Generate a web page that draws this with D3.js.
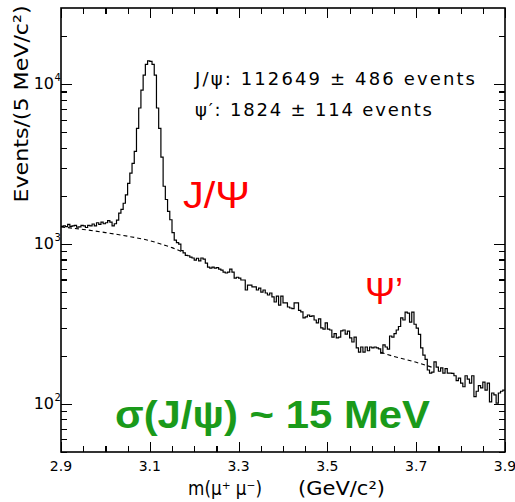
<!DOCTYPE html>
<html lang="en">
<head>
<meta charset="utf-8">
<title>J/psi and psi' in the dimuon mass spectrum</title>
<script src="https://cdn.jsdelivr.net/npm/d3@7"></script>
<style>
  body { margin: 0; background: #fff; }
  svg text { font-family: "DejaVu Sans", "Liberation Sans", Arial, sans-serif; fill: #000; }
  .frame { fill: none; stroke: #000; stroke-width: 1.6; }
  .axis line { stroke: #000; stroke-width: 1.2; shape-rendering: crispEdges; }
  .hist { fill: none; stroke: #000; stroke-width: 1.2; }
  .bkg { fill: none; stroke: #000; stroke-width: 1.1; stroke-dasharray: 4,3; }
  .big { font-family: "Liberation Sans", Arial, sans-serif; }
</style>
</head>
<body>
<script>
// 5 MeV/c2 bins from 2.900 to 3.900 GeV/c2, counts
var binStart = 2.9;
var binWidth = 0.005;
var counts = [
  1290, 1300, 1285, 1330, 1290, 1300, 1310, 1275, 1280, 1310,
  1300, 1270, 1310, 1300, 1335, 1300, 1360, 1330, 1370, 1340,
  1360, 1400, 1370, 1300, 1340, 1410, 1560, 1650, 1800, 2030,
  2400, 2780, 3200, 3800, 5300, 7100, 9200, 11400, 13300, 14000,
  13900, 13300, 11400, 7100, 5300, 3500, 2300, 1900, 1600, 1420,
  1180, 1060, 1020, 1000, 910, 880, 850, 845, 829, 818,
  794, 815, 785, 818, 805, 760, 718, 708, 718, 708,
  712, 698, 688, 668, 659, 668, 698, 668, 613, 620,
  613, 596, 596, 516, 554, 554, 539, 539, 516, 530,
  501, 516, 494, 480, 494, 467, 434, 473, 415, 473,
  428, 428, 404, 398, 395, 428, 428, 385, 376, 345,
  350, 360, 353, 355, 335, 321, 340, 299, 294, 321,
  294, 290, 262, 275, 259, 262, 286, 290, 273, 285,
  259, 244, 262, 224, 211, 227, 211, 227, 215, 227,
  224, 227, 224, 221, 208, 234, 227, 220, 266, 262,
  275, 290, 305, 345, 335, 375, 370, 325, 375, 315,
  298, 272, 224, 202, 190, 163, 156, 158, 183, 170,
  160, 168, 156, 166, 156, 156, 155, 150, 140, 145,
  135, 128, 150, 143, 135, 150, 111, 120, 130, 126,
  137, 122, 135, 103, 117, 114, 101, 117, 120, 122
];

// fitted background (dashed), only visible under the two peaks
var bkgJpsiMass = [2.90, 2.95, 3.00, 3.05, 3.10, 3.13, 3.15, 3.17];
var bkgJpsi     = [1280, 1235, 1180, 1120, 1050, 990, 950, 900];
var bkgPsi2Mass = [3.62, 3.65, 3.70, 3.74];
var bkgPsi2     = [210, 198, 182, 168];

var xTickLabels = ["2.9", "3.1", "3.3", "3.5", "3.7", "3.9"];
var yDecades = [2, 3, 4];

var w = 515, h = 502;
var pl = 61, pr = 505, pt = 8, pb = 452;   // plot frame

var svg = d3.select("body").append("svg")
    .attr("width", w)
    .attr("height", h);

var x = d3.scaleLinear().domain([2.9, 3.9]).range([pl, pr]);
var y = d3.scaleLog().domain([50, 30000]).range([pb, pt]);

svg.append("clipPath").attr("id", "plot")
  .append("rect")
    .attr("x", pl).attr("y", pt)
    .attr("width", pr - pl).attr("height", pb - pt);

// tick positions
var xMajor = xTickLabels.map(Number);
var xMinor = d3.range(0, 21).map(function(i) { return +(2.9 + 0.05 * i).toFixed(2); })
    .filter(function(v) { return xMajor.indexOf(v) < 0; });
var yMajor = yDecades.map(function(d) { return Math.pow(10, d); });
var yMinor = [];
[10, 100, 1000, 10000].forEach(function(dec) {
  d3.range(2, 10).forEach(function(k) {
    var v = k * dec;
    if (v >= 50 && v < 30000) yMinor.push(v);
  });
});

function addAxis(gen, scale, tx, ty, vals, size) {
  svg.append("g")
    .attr("class", "axis")
    .attr("transform", "translate(" + tx + "," + ty + ")")
    .call(gen(scale).tickValues(vals).tickSize(size).tickFormat(""))
    .call(function(g) { g.select(".domain").remove(); });
}
addAxis(d3.axisBottom, x, 0, pb, xMinor, -6);
addAxis(d3.axisBottom, x, 0, pb, xMajor, -10);
addAxis(d3.axisTop, x, 0, pt, xMinor, -6);
addAxis(d3.axisTop, x, 0, pt, xMajor, -10);
addAxis(d3.axisLeft, y, pl, 0, yMinor, -6);
addAxis(d3.axisLeft, y, pl, 0, yMajor, -11);
addAxis(d3.axisRight, y, pr, 0, yMinor, -6);
addAxis(d3.axisRight, y, pr, 0, yMajor, -11);

// histogram
var pts = counts.map(function(c, i) { return [binStart + i * binWidth, c]; });
pts.push([binStart + counts.length * binWidth, counts[counts.length - 1]]);

var stepLine = d3.line()
    .x(function(d) { return x(d[0]); })
    .y(function(d) { return y(d[1]); })
    .curve(d3.curveStepAfter);

svg.append("path")
    .attr("class", "hist")
    .attr("clip-path", "url(#plot)")
    .attr("d", stepLine(pts));

var smooth = d3.line()
    .x(function(d) { return x(d[0]); })
    .y(function(d) { return y(d[1]); })
    .curve(d3.curveMonotoneX);

svg.append("path").attr("class", "bkg")
    .attr("d", smooth(d3.zip(bkgJpsiMass, bkgJpsi)));
svg.append("path").attr("class", "bkg")
    .attr("d", smooth(d3.zip(bkgPsi2Mass, bkgPsi2)));

svg.append("rect")
    .attr("class", "frame")
    .attr("x", pl).attr("y", pt)
    .attr("width", pr - pl).attr("height", pb - pt);

// tick labels
svg.selectAll(".xlab")
  .data(xTickLabels)
  .enter().append("text")
    .attr("class", "xlab")
    .attr("x", function(d) { return x(+d); })
    .attr("y", 471)
    .attr("text-anchor", "middle")
    .attr("font-size", "14px")
    .text(function(d) { return d; });

var ylab = svg.selectAll(".ylab")
  .data(yDecades)
  .enter().append("g").attr("class", "ylab");
ylab.append("text")
    .attr("x", 54)
    .attr("y", function(d) { return y(Math.pow(10, d)) + 5; })
    .attr("text-anchor", "end")
    .attr("font-size", "16px")
    .text("10");
ylab.append("text")
    .attr("x", 54.5)
    .attr("y", function(d) { return y(Math.pow(10, d)) - 3; })
    .attr("font-size", "10px")
    .text(function(d) { return d; });

// axis titles
svg.append("text")
    .attr("transform", "translate(28,104) rotate(-90)")
    .attr("text-anchor", "middle")
    .attr("font-size", "20px")
    .attr("textLength", 197)
    .attr("lengthAdjust", "spacingAndGlyphs")
    .text("Events/(5 MeV/c\u00B2)");

svg.append("text")
    .attr("x", 188).attr("y", 495)
    .attr("font-size", "19px")
    .attr("textLength", 74)
    .attr("lengthAdjust", "spacingAndGlyphs")
    .text("m(\u03BC\u207A \u03BC\u207B)");
svg.append("text")
    .attr("x", 298).attr("y", 495)
    .attr("font-size", "19px")
    .attr("textLength", 87)
    .attr("lengthAdjust", "spacingAndGlyphs")
    .text("(GeV/c\u00B2)");

// fit results
svg.append("text")
    .attr("x", 195).attr("y", 85)
    .attr("font-size", "18px")
    .attr("textLength", 280)
    .attr("lengthAdjust", "spacing")
    .text("J/\u03C8: 112649 \u00B1 486 events");
svg.append("text")
    .attr("x", 195).attr("y", 116)
    .attr("font-size", "18px")
    .attr("textLength", 237)
    .attr("lengthAdjust", "spacing")
    .text("\u03C8\u2032: 1824 \u00B1 114 events");

// peak labels
svg.append("text")
    .attr("class", "big")
    .attr("x", 183).attr("y", 208)
    .attr("font-size", "36px")
    .attr("textLength", 67)
    .attr("lengthAdjust", "spacingAndGlyphs")
    .style("fill", "#ff0000")
    .text("J/\u03A8");
svg.append("text")
    .attr("class", "big")
    .attr("x", 365).attr("y", 304)
    .attr("font-size", "36px")
    .style("fill", "#ff0000")
    .text("\u03A8\u2019");

svg.append("text")
    .attr("class", "big")
    .attr("x", 115).attr("y", 428)
    .attr("font-size", "39px")
    .attr("font-weight", "bold")
    .attr("textLength", 315)
    .attr("lengthAdjust", "spacingAndGlyphs")
    .style("fill", "#1a9a1a")
    .text("\u03C3(J/\u03C8) ~ 15 MeV");
</script>
</body>
</html>
